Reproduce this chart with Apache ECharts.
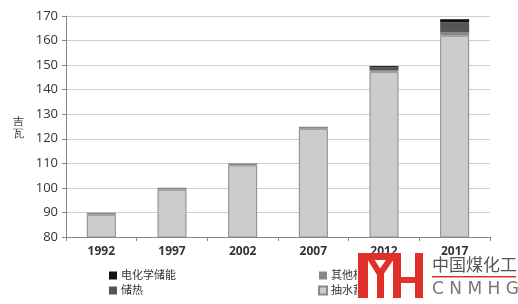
<!DOCTYPE html>
<html><head><meta charset="utf-8">
<script src="https://cdn.jsdelivr.net/npm/echarts@6/dist/echarts.min.js"></script>
<style>html,body{margin:0;padding:0;background:#fff}#c{width:518px;height:304px}</style>
</head><body><div id="c"></div>
<script>
const years = ['1992','1997','2002','2007','2012','2017'];
const pumped = [89.1, 99.3, 109.2, 124.1, 147.3, 162.0];
const otherMech = [0.8, 0.8, 0.8, 0.8, 0.7, 1.5];
const thermal = [0, 0, 0, 0, 1.1, 4.0];
const electro = [0, 0, 0, 0, 0.5, 1.2];
const seriesNames = ['电化学储能','储热','其他机械储能','抽水蓄能'];
const yTicks = {min: 80, max: 170, interval: 10};

const font = '"Open Sans", "Noto Sans CJK SC", sans-serif';
const chart = echarts.init(document.getElementById('c'));
function s(name, data, color, extra) {
  return Object.assign({name, type:'bar', stack:'t', data, barWidth:29,
    itemStyle:{color}, emphasis:{disabled:true}}, extra||{});
}
chart.setOption({
  animation:false,
  textStyle:{fontFamily:font},
  grid:{left:66, right:28, top:16, bottom:67},
  xAxis:{type:'category', data:years,
    axisLine:{lineStyle:{color:'#888'}},
    axisTick:{show:true, alignWithLabel:false, length:4, lineStyle:{color:'#888'}},
    axisLabel:{color:'#333', fontSize:12, fontWeight:'bold', margin:9, fontFamily:font}},
  yAxis:{type:'value', min:yTicks.min, max:yTicks.max, interval:yTicks.interval,
    axisLine:{show:true, lineStyle:{color:'#888'}},
    axisTick:{show:true, length:4, lineStyle:{color:'#888'}},
    axisLabel:{color:'#333', fontSize:13, margin:8, fontFamily:font},
    splitLine:{lineStyle:{color:'#d0d0d0'}}},
  legend:[
    {data:[seriesNames[0], seriesNames[1]], orient:'vertical', left:104, top:265,
     itemWidth:8, itemHeight:8, itemGap:4, icon:'rect',
     textStyle:{fontSize:11, color:'#333', padding:[0,0,0,-1]}},
    {data:[seriesNames[2], seriesNames[3]], orient:'vertical', left:313, top:265,
     itemWidth:8, itemHeight:8, itemGap:4, icon:'rect',
     textStyle:{fontSize:11, color:'#333', padding:[0,0,0,-1]}}
  ],
  series:[
    s(seriesNames[3], pumped, '#cccccc', {itemStyle:{color:'#cccccc', borderColor:'#8a8a8a', borderWidth:1}}),
    s(seriesNames[2], otherMech, '#888888'),
    s(seriesNames[1], thermal, '#555555'),
    s(seriesNames[0], electro, '#111111')
  ],
  graphic:[
    {type:'text', left:13, top:116, style:{text:'吉\n瓦', fontSize:11, lineHeight:12, fill:'#333', font:'11px "Noto Sans CJK SC"'}},
    {type:'rect', shape:{x:357, y:257, width:161, height:47}, style:{fill:'#fff'}, z:100},
    {type:'rect', shape:{x:358, y:253, width:10, height:45}, style:{fill:'#e0302a'}, z:101},
    {type:'rect', shape:{x:358, y:253, width:42, height:7}, style:{fill:'#e0302a'}, z:101},
    {type:'polyline', shape:{points:[[370,258],[380,274],[391,258]]}, style:{stroke:'#e0302a', lineWidth:6, fill:null}, z:101},
    {type:'rect', shape:{x:377, y:272, width:7, height:26}, style:{fill:'#e0302a'}, z:101},
    {type:'rect', shape:{x:393, y:253, width:8, height:45}, style:{fill:'#e0302a'}, z:101},
    {type:'rect', shape:{x:415, y:253, width:8, height:45}, style:{fill:'#e0302a'}, z:101},
    {type:'rect', shape:{x:393, y:277, width:30, height:6}, style:{fill:'#e0302a'}, z:101},
    {type:'text', left:432, top:256, style:{text:'中国煤化工', font:'17px "Noto Sans CJK SC"', fill:'#555'}, z:101},
    {type:'rect', shape:{x:432, y:276, width:84, height:1.5}, style:{fill:'#e0302a'}, z:101},
    {type:'text', left:432, top:281, style:{text:'C N M H G', font:'17px "DejaVu Sans"', fill:'#777'}, z:101}
  ]
});
</script></body></html>
